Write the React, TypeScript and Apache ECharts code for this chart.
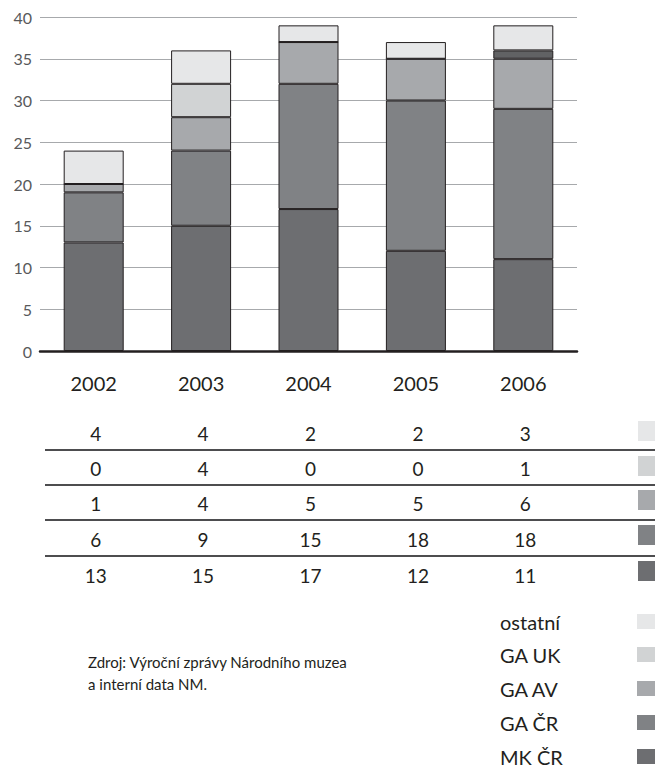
import React, { useEffect, useRef } from 'react';
import * as echarts from 'echarts';

const years = ['2002', '2003', '2004', '2005', '2006'];
// bottom to top of each bar
const seriesNames = ['MK ČR', 'GA ČR', 'GA AV', 'GA UK', 'ostatní'];
const mkCR = [13, 15, 17, 12, 11];
const gaCR = [6, 9, 15, 18, 18];
const gaAV = [1, 4, 5, 5, 6];
const gaUK = [0, 4, 0, 0, 1];
const ostatni = [4, 4, 2, 2, 3];
const yMax = 40;
const yStep = 5;
const sourceLines = ['Zdroj: Výroční zprávy Národního muzea', 'a interní data NM.'];

const seriesValues = [mkCR, gaCR, gaAV, gaUK, ostatni];
const colors = ['#6d6e71', '#808285', '#a7a9ac', '#d1d3d4', '#e6e7e8'];
// in the original, the 2006 GA UK segment is printed dark
const override = { seriesIndex: 3, dataIndex: 4, color: '#616264' };

const FONT = 'Lato';
const TEXT = '#231f20';

export default function App() {
  const ref = useRef<HTMLDivElement>(null);
  useEffect(() => {
    if (!ref.current) return;
    const chart = echarts.init(ref.current, undefined, { renderer: 'svg' });
    chart.setOption({
      animation: false,
      backgroundColor: '#ffffff',
      grid: { left: 40, right: 78, top: 17, bottom: 418, containLabel: false },
      xAxis: {
        type: 'category',
        data: years,
        axisLine: { lineStyle: { color: TEXT, width: 2.5 } },
        axisTick: { show: false },
        axisLabel: { fontSize: 20, color: TEXT, fontFamily: FONT, margin: 22 },
      },
      yAxis: {
        type: 'value',
        min: 0,
        max: yMax,
        interval: yStep,
        axisLine: { show: false },
        axisTick: { show: false },
        axisLabel: { fontSize: 16, color: '#58595b', fontFamily: FONT, margin: 8 },
        splitLine: { lineStyle: { color: '#a7a9ac', width: 1.2 } },
      },
      series: seriesNames.map((name, si) => ({
        name,
        type: 'bar',
        stack: 'total',
        barWidth: 60,
        itemStyle: { color: colors[si], borderColor: TEXT, borderWidth: 1 },
        data: seriesValues[si].map((v, di) =>
          si === override.seriesIndex && di === override.dataIndex
            ? { value: v, itemStyle: { color: override.color } }
            : v
        ),
      })),
    });

    const xs = years.map((y) => {
      const p: any = chart.convertToPixel({ xAxisIndex: 0 }, y);
      return Array.isArray(p) ? p[0] : p;
    });

    const graphics: any[] = [];
    // table rows: top to bottom = reversed stack order
    const rowCenters = [433, 468, 503, 539, 575];
    const rowLines = [450, 485, 520, 556];
    const squareTops = [421, 456, 490, 525, 561];
    const tableOrder = [4, 3, 2, 1, 0];
    tableOrder.forEach((si, r) => {
      seriesValues[si].forEach((v, di) => {
        graphics.push({
          type: 'text',
          x: xs[di] + 2,
          y: rowCenters[r],
          style: {
            text: String(v),
            align: 'center',
            verticalAlign: 'middle',
            fontSize: 19,
            fontFamily: FONT,
            fill: TEXT,
          },
        });
      });
      graphics.push({
        type: 'rect',
        shape: { x: 638, y: squareTops[r], width: 18, height: 20 },
        style: { fill: colors[si] },
      });
    });
    rowLines.forEach((y) => {
      graphics.push({
        type: 'line',
        shape: { x1: 45, y1: y, x2: 655, y2: y },
        style: { stroke: '#4d4d4f', lineWidth: 2 },
      });
    });
    // legend
    const legendCenters = [622, 655, 689, 723, 757];
    tableOrder.forEach((si, r) => {
      graphics.push({
        type: 'text',
        x: 500,
        y: legendCenters[r],
        style: {
          text: seriesNames[si],
          align: 'left',
          verticalAlign: 'middle',
          fontSize: 20,
          fontFamily: FONT,
          fill: TEXT,
        },
      });
      graphics.push({
        type: 'rect',
        shape: { x: 637, y: legendCenters[r] - 8, width: 18, height: 15 },
        style: { fill: colors[si] },
      });
    });
    sourceLines.forEach((t, i) => {
      graphics.push({
        type: 'text',
        x: 88,
        y: 662 + i * 22,
        style: {
          text: t,
          align: 'left',
          verticalAlign: 'middle',
          fontSize: 15,
          fontFamily: FONT,
          fill: TEXT,
        },
      });
    });
    chart.setOption({ graphic: graphics });

    return () => chart.dispose();
  }, []);
  return (
    <div
      ref={ref}
      style={{ position: 'fixed', left: 0, top: 0, width: 655, height: 769, background: '#fff' }}
    />
  );
}
